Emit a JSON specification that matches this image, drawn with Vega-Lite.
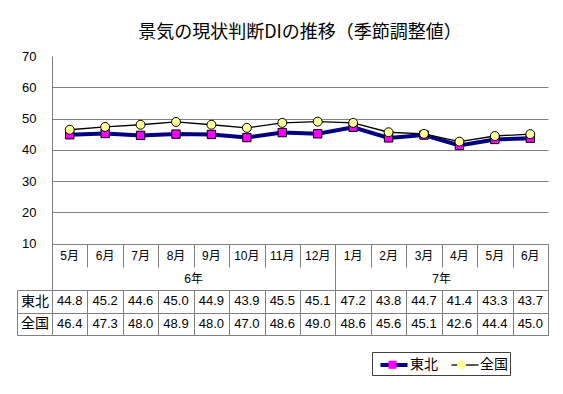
{
  "$schema": "https://vega.github.io/schema/vega-lite/v6.json",
  "padding": {"left": 16, "top": 24, "right": 0, "bottom": 0},
  "background": "#ffffff",
  "title": {"text": "景気の現状判断DIの推移（季節調整値）", "font": "Noto Sans CJK JP", "fontSize": 18, "fontWeight": "normal", "color": "#000000", "anchor": "middle", "frame": "group", "offset": 8},
  "datasets": {
    "di": [
      {"key": "6年5月", "month": "5月", "year": "6年", "series": "東北", "value": 44.8},
      {"key": "6年6月", "month": "6月", "year": "6年", "series": "東北", "value": 45.2},
      {"key": "6年7月", "month": "7月", "year": "6年", "series": "東北", "value": 44.6},
      {"key": "6年8月", "month": "8月", "year": "6年", "series": "東北", "value": 45.0},
      {"key": "6年9月", "month": "9月", "year": "6年", "series": "東北", "value": 44.9},
      {"key": "6年10月", "month": "10月", "year": "6年", "series": "東北", "value": 43.9},
      {"key": "6年11月", "month": "11月", "year": "6年", "series": "東北", "value": 45.5},
      {"key": "6年12月", "month": "12月", "year": "6年", "series": "東北", "value": 45.1},
      {"key": "7年1月", "month": "1月", "year": "7年", "series": "東北", "value": 47.2},
      {"key": "7年2月", "month": "2月", "year": "7年", "series": "東北", "value": 43.8},
      {"key": "7年3月", "month": "3月", "year": "7年", "series": "東北", "value": 44.7},
      {"key": "7年4月", "month": "4月", "year": "7年", "series": "東北", "value": 41.4},
      {"key": "7年5月", "month": "5月", "year": "7年", "series": "東北", "value": 43.3},
      {"key": "7年6月", "month": "6月", "year": "7年", "series": "東北", "value": 43.7},
      {"key": "6年5月", "month": "5月", "year": "6年", "series": "全国", "value": 46.4},
      {"key": "6年6月", "month": "6月", "year": "6年", "series": "全国", "value": 47.3},
      {"key": "6年7月", "month": "7月", "year": "6年", "series": "全国", "value": 48.0},
      {"key": "6年8月", "month": "8月", "year": "6年", "series": "全国", "value": 48.9},
      {"key": "6年9月", "month": "9月", "year": "6年", "series": "全国", "value": 48.0},
      {"key": "6年10月", "month": "10月", "year": "6年", "series": "全国", "value": 47.0},
      {"key": "6年11月", "month": "11月", "year": "6年", "series": "全国", "value": 48.6},
      {"key": "6年12月", "month": "12月", "year": "6年", "series": "全国", "value": 49.0},
      {"key": "7年1月", "month": "1月", "year": "7年", "series": "全国", "value": 48.6},
      {"key": "7年2月", "month": "2月", "year": "7年", "series": "全国", "value": 45.6},
      {"key": "7年3月", "month": "3月", "year": "7年", "series": "全国", "value": 45.1},
      {"key": "7年4月", "month": "4月", "year": "7年", "series": "全国", "value": 42.6},
      {"key": "7年5月", "month": "5月", "year": "7年", "series": "全国", "value": 44.4},
      {"key": "7年6月", "month": "6月", "year": "7年", "series": "全国", "value": 45.0}
    ],
    "years": [
      {"year": "6年", "anchor": "6年9月"},
      {"year": "7年", "anchor": "7年4月"}
    ]
  },
  "bounds": "flush",
  "spacing": 0,
  "resolve": {
    "scale": {"shape": "independent", "fill": "independent", "stroke": "independent", "strokeWidth": "independent"},
    "legend": {"shape": "independent", "fill": "independent", "stroke": "independent", "strokeWidth": "independent"}
  },
  "vconcat": [
    {
      "width": 496,
      "height": 187.5,
      "data": {"name": "di"},
      "encoding": {
        "x": {"field": "key", "type": "nominal", "bandPosition": 0.5,
          "scale": {"type": "band", "paddingInner": 0, "paddingOuter": 0,
            "domain": ["6年5月","6年6月","6年7月","6年8月","6年9月","6年10月","6年11月","6年12月","7年1月","7年2月","7年3月","7年4月","7年5月","7年6月"]},
          "axis": null},
        "y": {"field": "value", "type": "quantitative",
          "scale": {"domain": [10, 70], "nice": false, "zero": false},
          "axis": {"values": [10, 20, 30, 40, 50, 60, 70], "title": null, "ticks": false, "grid": true,
            "gridColor": "#808080", "gridOpacity": {"condition": {"test": "datum.value === 70", "value": 0}, "value": 1},
            "domain": true, "domainColor": "#808080", "labelPadding": 16, "labelFont": "Liberation Sans", "labelFontSize": 13,
            "labelColor": "#000000", "labelFlush": false, "labelOverlap": false, "labelBound": false}}
      },
      "layer": [
        {
          "mark": {"type": "line"},
          "encoding": {
            "stroke": {"field": "series", "type": "nominal",
              "scale": {"domain": ["東北", "全国"], "range": ["#000080", "#000000"]},
              "legend": {"orient": "none", "legendX": 320, "legendY": 296, "direction": "horizontal", "title": null,
                "symbolType": "M-1.5,0H1.5", "symbolSize": 324, "symbolOffset": 9, "labelOffset": 5, "columnPadding": 8,
                "padding": 2, "strokeColor": "#404040", "fillColor": "#ffffff",
                "labelFont": "Noto Sans CJK JP", "labelFontSize": 14, "labelColor": "#000000"}},
            "strokeWidth": {"field": "series", "type": "nominal",
              "scale": {"type": "point", "padding": 0, "domain": ["東北", "全国"], "range": [4, 1.3]}}
          }
        },
        {
          "transform": [{"filter": "datum.series === '東北'"}],
          "mark": {"type": "point", "filled": true, "shape": "square", "fill": "#FF00FF", "stroke": "#000000", "strokeWidth": 1, "size": 70, "opacity": 1}
        },
        {
          "transform": [{"filter": "datum.series === '全国'"}],
          "mark": {"type": "point", "filled": true, "shape": "circle", "fill": "#FFFF99", "stroke": "#000000", "strokeWidth": 1, "size": 80, "opacity": 1}
        }
      ]
    },
    {
      "width": 496,
      "height": 46,
      "layer": [
        {
          "data": {"name": "di"},
          "transform": [{"filter": "datum.series === '東北'"}],
          "mark": {"type": "text", "font": "Liberation Sans, Noto Sans CJK JP", "fontSize": 12, "color": "#000000"},
          "encoding": {
            "x": {"field": "key", "type": "nominal",
              "scale": {"type": "band", "paddingInner": 0, "paddingOuter": 0,
                "domain": ["6年5月","6年6月","6年7月","6年8月","6年9月","6年10月","6年11月","6年12月","7年1月","7年2月","7年3月","7年4月","7年5月","7年6月"]},
              "axis": {"orient": "top", "tickBand": "extent", "tickSize": -23, "labels": false, "domain": true, "grid": false, "title": null,
                "domainColor": "#808080", "tickColor": "#808080"}},
            "y": {"datum": "月", "type": "nominal",
              "scale": {"type": "band", "domain": ["月", "年"], "paddingInner": 0, "paddingOuter": 0},
              "axis": {"orient": "left", "labels": false, "ticks": false, "domain": true, "grid": false, "title": null, "domainColor": "#808080"}},
            "text": {"field": "month"}
          }
        },
        {
          "data": {"name": "years"},
          "mark": {"type": "text", "font": "Liberation Sans, Noto Sans CJK JP", "fontSize": 12, "color": "#000000"},
          "encoding": {
            "x": {"field": "anchor", "type": "nominal", "bandPosition": 0,
              "axis": {"orient": "bottom", "values": ["6年5月", "7年1月"], "bandPosition": 0, "tickSize": -23, "labels": false,
                "domain": true, "grid": false, "title": null, "domainColor": "#808080", "tickColor": "#808080"}},
            "y": {"datum": "年", "type": "nominal",
              "axis": {"orient": "right", "labels": false, "ticks": false, "domain": true, "grid": false, "title": null, "domainColor": "#808080"}},
            "text": {"field": "year"}
          }
        }
      ],
      "resolve": {"axis": {"x": "independent", "y": "independent"}}
    },
    {
      "width": 496,
      "height": 45,
      "data": {"name": "di"},
      "view": {"stroke": "#808080"},
      "layer": [
        {
          "mark": {"type": "text", "font": "Liberation Sans", "fontSize": 13, "color": "#000000"},
          "encoding": {
            "x": {"field": "key", "type": "nominal",
              "scale": {"type": "band", "paddingInner": 0, "paddingOuter": 0,
                "domain": ["6年5月","6年6月","6年7月","6年8月","6年9月","6年10月","6年11月","6年12月","7年1月","7年2月","7年3月","7年4月","7年5月","7年6月"]},
              "axis": {"orient": "bottom", "tickBand": "extent", "grid": true, "gridColor": "#808080", "ticks": false, "labels": false, "domain": false, "title": null}},
            "y": {"field": "series", "type": "nominal",
              "scale": {"type": "band", "domain": ["東北", "全国"], "paddingInner": 0, "paddingOuter": 0},
              "axis": {"orient": "left", "tickBand": "extent", "ticks": true, "tickSize": 35, "tickColor": "#808080", "grid": true, "gridColor": "#808080",
                "domain": true, "domainColor": "#808080", "labelAlign": "center", "labelBaseline": "middle", "labelPadding": -17.5,
                "labelFont": "Noto Sans CJK JP", "labelFontSize": 14, "labelColor": "#000000", "title": null}},
            "text": {"field": "value", "type": "quantitative", "format": ".1f"}
          }
        },
        {
          "mark": {"type": "point", "filled": true, "opacity": 0, "stroke": "#000000", "strokeWidth": 1},
          "encoding": {
            "x": {"field": "key", "type": "nominal", "axis": null},
            "y": {"field": "series", "type": "nominal",
              "axis": {"orient": "left", "offset": 35, "labels": false, "ticks": false, "grid": false, "domain": true, "domainColor": "#808080", "title": null}},
            "shape": {"field": "series", "type": "nominal",
              "scale": {"domain": ["東北", "全国"], "range": ["M-0.45,-0.45H0.45V0.45H-0.45Z", "M0.5,0A0.5,0.5,0,1,1,-0.5,0A0.5,0.5,0,1,1,0.5,0Z"]},
              "legend": {"orient": "none", "legendX": 320, "legendY": 63, "direction": "horizontal", "title": null,
                "symbolSize": 324, "symbolOffset": 9, "labelOffset": 5, "columnPadding": 36, "padding": 2,
                "symbolOpacity": 1, "symbolStrokeColor": "#000000", "symbolStrokeWidth": 1,
                "labelExpr": "''", "labelFont": "Noto Sans CJK JP", "labelFontSize": 14}},
            "fill": {"field": "series", "type": "nominal",
              "scale": {"domain": ["東北", "全国"], "range": ["#FF00FF", "#FFFF99"]}}
          }
        }
      ],
      "resolve": {"axis": {"x": "independent", "y": "independent"}}
    }
  ],
  "config": {
    "view": {"stroke": null},
    "axis": {"labelFont": "Liberation Sans", "domainColor": "#808080", "tickColor": "#808080", "gridColor": "#808080", "gridWidth": 1, "domainWidth": 1}
  }
}
